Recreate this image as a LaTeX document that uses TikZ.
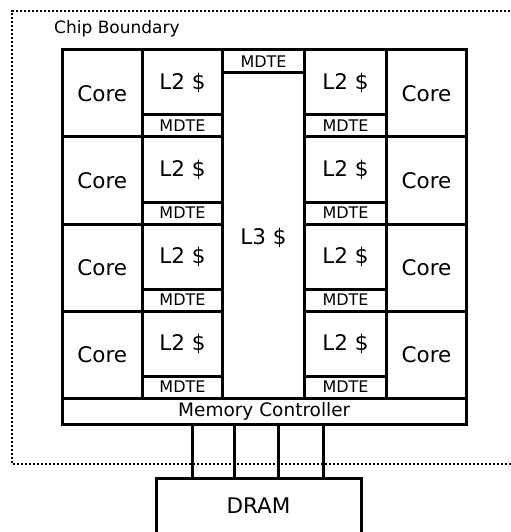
\documentclass[tikz,border=0pt]{standalone}
\usepackage{fontspec}
\setmainfont{DejaVu Sans}
\usetikzlibrary{fit}
\begin{document}
\begin{tikzpicture}[x=1bp,y=-1bp,
  blk/.style={draw, line width=3bp, inner sep=0pt, outer sep=0pt},
  big/.style={inner sep=0pt, font=\fontsize{21.5bp}{24bp}\selectfont},
  small/.style={inner sep=0pt, font=\fontsize{16bp}{18bp}\selectfont},
  mctext/.style={inner sep=0pt, font=\fontsize{18.5bp}{21bp}\selectfont},
  wire/.style={line width=3bp},
  bound/.style={line width=2.6bp, dash pattern=on 2.4bp off 1.6bp},
  lbl/.style={font=\fontsize{17bp}{20bp}\selectfont, inner sep=0pt, anchor=west}]
\useasboundingbox (0,0) rectangle (511,532);
\begin{scope}
\clip (0,0) rectangle (511,532);
% chip boundary
\coordinate (cbtl) at (12,11);
\coordinate (cbbl) at (12,464);
\coordinate (cbtr) at (530,11);
\coordinate (cbbr) at (530,464);
\draw[bound] (cbtr) -- (cbtl) -- (cbbl) -- (cbbr);
\node[lbl] (cblabel) at (54,29) {Chip Boundary};
\foreach \r/\y in {1/50,2/137,3/224,4/311}{
  \pgfmathsetmacro{\yb}{\y+87}
  \pgfmathsetmacro{\ym}{\y+65}
  \node[blk, fit={(62,\y) (142.5,\yb)}] (lcore\r) {};
  \node[big] at (lcore\r.center) {Core};
  \node[blk, fit={(142.5,\y) (222.5,\ym)}] (ll2\r) {};
  \node[big] at (ll2\r.center) {L2 \$};
  \node[blk, fit={(142.5,\ym) (222.5,\yb)}] (lmd\r) {};
  \node[small] at (lmd\r.center) {MDTE};
  \node[blk, fit={(304.5,\y) (386.5,\ym)}] (rl2\r) {};
  \node[big] at (rl2\r.center) {L2 \$};
  \node[blk, fit={(304.5,\ym) (386.5,\yb)}] (rmd\r) {};
  \node[small] at (rmd\r.center) {MDTE};
  \node[blk, fit={(386.5,\y) (466.5,\yb)}] (rcore\r) {};
  \node[big] at (rcore\r.center) {Core};
}
\node[blk, fit={(222.5,50) (304.5,72.5)}] (topmd) {};
\node[small] at (topmd.center) {MDTE};
\node[blk, fit={(222.5,72.5) (304.5,398)}] (l3) {};
\node[big] at (263.5,238) {L3 \$};
\node[blk, fit={(62,398) (466.5,424)}] (mc) {};
\node[mctext] at (mc.center) {Memory Controller};
\node[blk, fit={(156,478) (361,540)}] (dramb) {};
\node[big] (dram) at (258.5,506) {DRAM};
\foreach \x in {192,234,278,323}{
  \draw[wire] (\x,0 |- mc.south) -- (\x,0 |- dramb.north);
}
\end{scope}
\end{tikzpicture}
\end{document}
